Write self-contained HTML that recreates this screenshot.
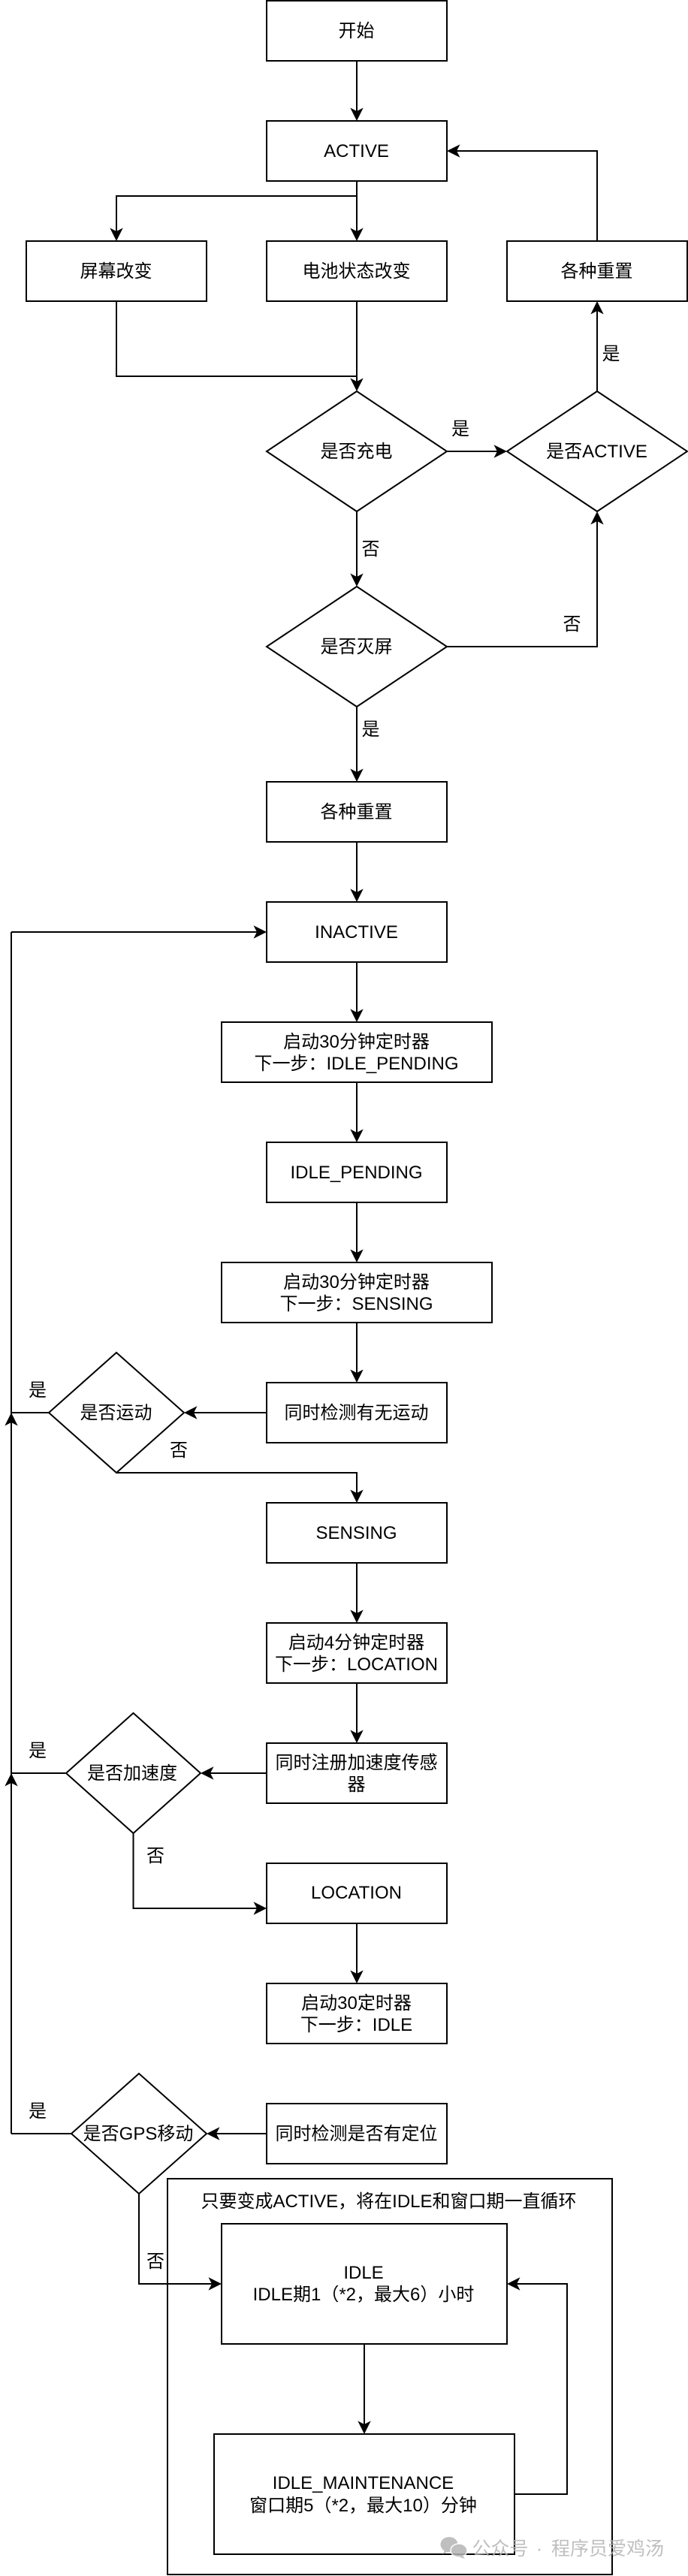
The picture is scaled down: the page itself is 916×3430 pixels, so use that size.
<!DOCTYPE html>
<html lang="zh"><head><meta charset="utf-8"><title>Flowchart</title>
<style>
html,body{margin:0;padding:0;background:#fff}
svg{display:block}
text{font-family:"Liberation Sans","Noto Sans CJK SC",sans-serif;font-size:24px;fill:#000;text-anchor:middle}
.b{fill:#fff;stroke:#000;stroke-width:2}
.n{fill:none;stroke:#000;stroke-width:2}
</style></head><body>
<svg xmlns="http://www.w3.org/2000/svg" width="916" height="3430" viewBox="0 0 916 3430">
<defs><path id="a" d="M0 0L-8.7-17.5L0-13L8.7-17.5Z" fill="#000"/></defs>

<!-- connectors -->
<path class="n" d="M475 81V148M475 241V308M475 261H155V308M155 401V501H475M475 401V508M795 321V201H608M795 521V414M595 601H662M475 681V768M595 861H795V694M475 941V1028M475 1121V1188M15 1241H342M475 1281V1348M475 1441V1508M475 1601V1668M475 1761V1828M355 1881H258M65 1881H15M155 1961H475V1988M475 2081V2148M475 2241V2308M355 2361H280M87 2361H15M177.500 2441V2541H342M475 2561V2628M355 2841H288M95 2841H15M15 1241V2841"/>
<use href="#a" transform="translate(475 161)"/>
<use href="#a" transform="translate(475 321)"/>
<use href="#a" transform="translate(155 321)"/>
<use href="#a" transform="translate(475 521)"/>
<use href="#a" transform="translate(595 201) rotate(90)"/>
<use href="#a" transform="translate(795 401) rotate(180)"/>
<use href="#a" transform="translate(675 601) rotate(-90)"/>
<use href="#a" transform="translate(475 781)"/>
<use href="#a" transform="translate(795 681) rotate(180)"/>
<use href="#a" transform="translate(475 1041)"/>
<use href="#a" transform="translate(475 1201)"/>
<use href="#a" transform="translate(355 1241) rotate(-90)"/>
<use href="#a" transform="translate(475 1361)"/>
<use href="#a" transform="translate(475 1521)"/>
<use href="#a" transform="translate(475 1681)"/>
<use href="#a" transform="translate(475 1841)"/>
<use href="#a" transform="translate(245 1881) rotate(90)"/>
<use href="#a" transform="translate(15 1881) rotate(180)"/>
<use href="#a" transform="translate(475 2001)"/>
<use href="#a" transform="translate(475 2161)"/>
<use href="#a" transform="translate(475 2321)"/>
<use href="#a" transform="translate(267 2361) rotate(90)"/>
<use href="#a" transform="translate(15 2361) rotate(180)"/>
<use href="#a" transform="translate(355 2541) rotate(-90)"/>
<use href="#a" transform="translate(475 2641)"/>
<use href="#a" transform="translate(275 2841) rotate(90)"/>

<!-- shapes -->
<rect class="b" x="355" y="1" width="240" height="80"/>
<rect class="b" x="355" y="161" width="240" height="80"/>
<rect class="b" x="35" y="321" width="240" height="80"/>
<rect class="b" x="355" y="321" width="240" height="80"/>
<rect class="b" x="675" y="321" width="240" height="80"/>
<polygon class="b" points="475,521 595,601 475,681 355,601"/>
<polygon class="b" points="795,521 915,601 795,681 675,601"/>
<polygon class="b" points="475,781 595,861 475,941 355,861"/>
<rect class="b" x="355" y="1041" width="240" height="80"/>
<rect class="b" x="355" y="1201" width="240" height="80"/>
<rect class="b" x="295" y="1361" width="360" height="80"/>
<rect class="b" x="355" y="1521" width="240" height="80"/>
<rect class="b" x="295" y="1681" width="360" height="80"/>
<rect class="b" x="355" y="1841" width="240" height="80"/>
<polygon class="b" points="155,1801 245,1881 155,1961 65,1881"/>
<rect class="b" x="355" y="2001" width="240" height="80"/>
<rect class="b" x="355" y="2161" width="240" height="80"/>
<rect class="b" x="355" y="2321" width="240" height="80"/>
<polygon class="b" points="177.500,2281 267,2361 177.500,2441 88,2361"/>
<rect class="b" x="355" y="2481" width="240" height="80"/>
<rect class="b" x="355" y="2641" width="240" height="80"/>
<rect class="b" x="355" y="2801" width="240" height="80"/>
<rect class="n" x="223" y="2901" width="592" height="527"/>
<polygon class="b" points="185,2761 275,2841 185,2921 95,2841"/>
<rect class="b" x="295" y="2961" width="380" height="160"/>
<rect class="b" x="285" y="3241" width="400" height="160"/>
<path class="n" d="M185 2921V3041H282M485 3121V3228M685 3321H755V3041H688"/>
<use href="#a" transform="translate(295 3041) rotate(-90)"/>
<use href="#a" transform="translate(485 3241)"/>
<use href="#a" transform="translate(675 3041) rotate(90)"/>

<!-- labels -->
<text x="474.500" y="49">开始</text>
<text x="474.500" y="209">ACTIVE</text>
<text x="154.500" y="369">屏幕改变</text>
<text x="474.500" y="369">电池状态改变</text>
<text x="794.500" y="369">各种重置</text>
<text x="474.500" y="609">是否充电</text>
<text x="794.500" y="609">是否ACTIVE</text>
<text x="474.500" y="869">是否灭屏</text>
<text x="474.500" y="1089">各种重置</text>
<text x="474.500" y="1249">INACTIVE</text>
<text x="474.500" y="1395">启动30分钟定时器</text>
<text x="474.500" y="1424">下一步：IDLE_PENDING</text>
<text x="474.500" y="1569">IDLE_PENDING</text>
<text x="474.500" y="1715">启动30分钟定时器</text>
<text x="474.500" y="1744">下一步：SENSING</text>
<text x="474.500" y="1889">同时检测有无运动</text>
<text x="154.500" y="1889">是否运动</text>
<text x="474.500" y="2049">SENSING</text>
<text x="474.500" y="2195">启动4分钟定时器</text>
<text x="474.500" y="2224">下一步：LOCATION</text>
<text x="474.500" y="2355">同时注册加速度传感</text>
<text x="474.500" y="2384">器</text>
<text x="176" y="2369">是否加速度</text>
<text x="474.500" y="2528">LOCATION</text>
<text x="474.500" y="2675">启动30定时器</text>
<text x="474.500" y="2704">下一步：IDLE</text>
<text x="474.500" y="2849">同时检测是否有定位</text>
<text x="184" y="2849">是否GPS移动</text>
<text x="517.500" y="2939">只要变成ACTIVE，将在IDLE和窗口期一直循环</text>
<text x="484" y="3034">IDLE</text>
<text x="484" y="3063">IDLE期1（*2，最大6）小时</text>
<text x="483.500" y="3314">IDLE_MAINTENANCE</text>
<text x="483.500" y="3344">窗口期5（*2，最大10）分钟</text>
<text x="613" y="579">是</text>
<text x="813.500" y="479">是</text>
<text x="493.500" y="739">否</text>
<text x="761.500" y="839">否</text>
<text x="493.500" y="979">是</text>
<text x="50" y="1859">是</text>
<text x="238" y="1939">否</text>
<text x="50" y="2339">是</text>
<text x="207" y="2479">否</text>
<text x="50" y="2819">是</text>
<text x="207" y="3019">否</text>

<!-- watermark -->
<g opacity="0.85">
<ellipse cx="598" cy="3388" rx="11.500" ry="10" fill="#b4b4b4"/>
<path d="M592 3396l-3 5 7-3z" fill="#b4b4b4"/>
<ellipse cx="611" cy="3396" rx="11" ry="9" fill="#b4b4b4" stroke="#fff" stroke-width="1.500"/>
<path d="M616 3403l3 4-7-2z" fill="#b4b4b4"/>
<text x="666" y="3402" style="font-size:25px;fill:#b4b4b4">公众号</text>
<text x="718" y="3402" style="font-size:25px;fill:#b4b4b4">·</text>
<text x="809" y="3402" style="font-size:25px;fill:#b4b4b4">程序员爱鸡汤</text>
</g>
</svg>
</body></html>
